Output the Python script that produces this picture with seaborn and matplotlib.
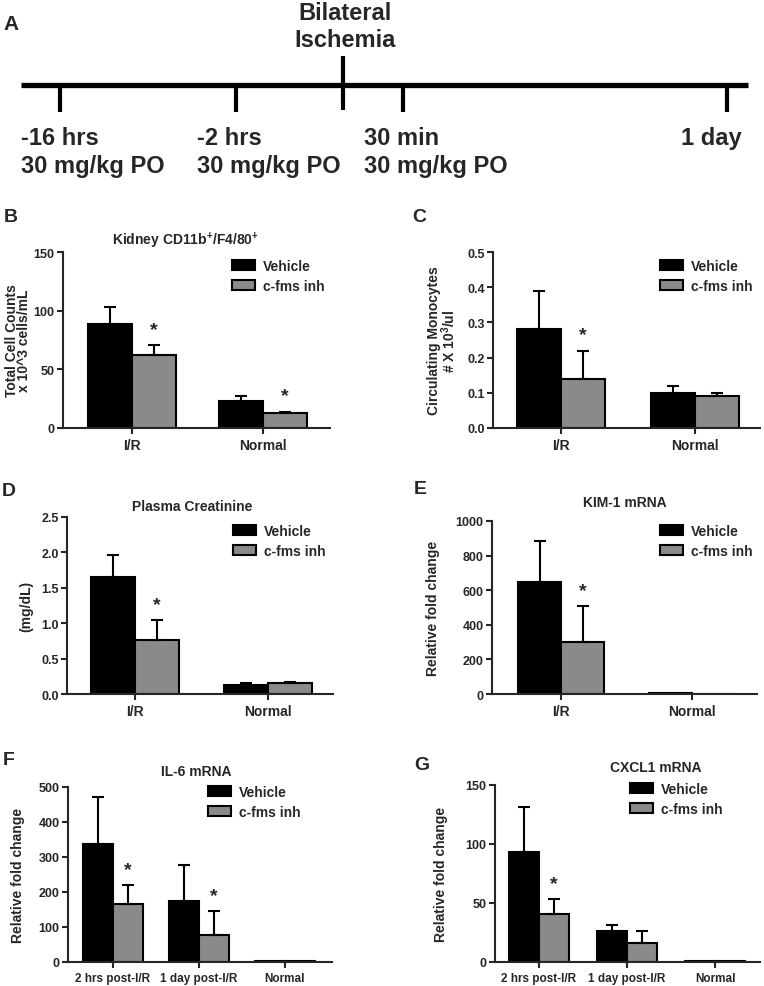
import numpy as np
import pandas as pd
import seaborn as sns
import matplotlib.pyplot as plt

# ======================
# DATA
# ======================
TREATMENTS = ["Vehicle", "c-fms inh"]

# timeline (panel A), schematic positions along the drawn line (px)
tl_pos = [60, 236, 403, 727]
tl_time = ["-16 hrs", "-2 hrs", "30 min", "1 day"]
tl_dose = ["30 mg/kg PO", "30 mg/kg PO", "30 mg/kg PO", ""]
ischemia_pos = 343

groups_2 = ["I/R", "Normal"]
groups_3 = ["2 hrs post-I/R", "1 day post-I/R", "Normal"]

# B  kidney macrophages
b_veh, b_veh_hi = [89, 23], [103, 27]
b_inh, b_inh_hi = [62, 13], [71, 14]
b_star = [True, True]

# C  circulating monocytes
c_veh, c_veh_hi = [0.28, 0.10], [0.39, 0.12]
c_inh, c_inh_hi = [0.14, 0.09], [0.22, 0.10]
c_star = [True, False]

# D  plasma creatinine
d_veh, d_veh_hi = [1.65, 0.13], [1.96, 0.16]
d_inh, d_inh_hi = [0.76, 0.15], [1.04, 0.17]
d_star = [True, False]

# E  KIM-1
e_veh, e_veh_hi = [645, 3], [887, 3]
e_inh, e_inh_hi = [300, 2], [507, 2]
e_star = [True, False]

# F  IL-6
f_veh, f_veh_hi = [336, 175, 2], [472, 277, 2]
f_inh, f_inh_hi = [165, 78, 2], [219, 146, 2]
f_star = [True, True, False]

# G  CXCL1
g_veh, g_veh_hi = [93, 26, 1], [131, 31, 1]
g_inh, g_inh_hi = [41, 16, 1], [53, 26, 1]
g_star = [True, False, False]

# ======================
# STYLE
# ======================
sns.set_style("ticks")
plt.rcParams["font.family"] = ["Liberation Sans", "DejaVu Sans"]
plt.rcParams["font.weight"] = "bold"
plt.rcParams["mathtext.default"] = "regular"
plt.rcParams["axes.linewidth"] = 1.5
plt.rcParams["xtick.major.width"] = 1.5
plt.rcParams["ytick.major.width"] = 1.5
plt.rcParams["xtick.major.size"] = 4
plt.rcParams["ytick.major.size"] = 4
plt.rcParams["xtick.major.pad"] = 3
plt.rcParams["ytick.major.pad"] = 2

W, H = 764, 987
fig = plt.figure(figsize=(W / 100, H / 100), dpi=100)
GRAY = "#8a8a8a"


def px_axes(x0, x1, top, bottom):
    return fig.add_axes([x0 / W, 1 - bottom / H, (x1 - x0) / W, (bottom - top) / H])


def ftext(x, y, s, **kw):
    fig.text(x / W, 1 - y / H, s, **kw)


# ======================
# PANEL A - TIMELINE
# ======================
ax_a = fig.add_axes([0, 1 - 190 / H, 1, 190 / H])
ax_a.set_xlim(0, W)
ax_a.set_ylim(190, 0)
ax_a.axis("off")
ax_a.hlines(86, 21, 748, color="black", lw=3.8, capstyle="butt")
ax_a.vlines(tl_pos, 86, 113, color="black", lw=3)
ax_a.vlines(ischemia_pos, 57, 111, color="black", lw=3)
tl_font = dict(fontsize=17, fontweight="bold", va="baseline")
for p, t, d in zip(tl_pos, tl_time, tl_dose):
    if d:
        ax_a.text(p - 39, 145, t, ha="left", **tl_font)
        ax_a.text(p - 39, 173, d, ha="left", **tl_font)
    else:
        ax_a.text(p + 15, 145, t, ha="right", **tl_font)
ax_a.text(ischemia_pos + 2, 20, "Bilateral", ha="center", **tl_font)
ax_a.text(ischemia_pos + 2, 47, "Ischemia", ha="center", **tl_font)
ftext(3, 24, "A", fontsize=15, fontweight="bold", va="center")


# ======================
# BAR PANELS
# ======================
def bar_panel(rect, groups, veh, veh_hi, inh, inh_hi, stars, ymax, ystep,
              xlim, width, ylabel, label_x, legend_xy, xfont=10, yfmt="{:g}",
              lab_spacing=0.95):
    ax = px_axes(*rect)
    df = pd.DataFrame({
        "group": groups * 2,
        "treatment": [TREATMENTS[0]] * len(groups) + [TREATMENTS[1]] * len(groups),
        "mean": veh + inh,
    })
    sns.barplot(data=df, x="group", y="mean", hue="treatment", hue_order=TREATMENTS,
                palette=["black", GRAY], edgecolor="black", linewidth=1.5,
                width=width, errorbar=None, ax=ax)

    for cont, means, hi, is_inh in zip(ax.containers, [veh, inh], [veh_hi, inh_hi], [False, True]):
        xs = np.array([b.get_x() + b.get_width() / 2 for b in cont])
        m = np.array(means, dtype=float)
        u = np.array(hi, dtype=float)
        mask = u > m
        if mask.any():
            ax.errorbar(xs[mask], m[mask], yerr=[np.zeros(mask.sum()), (u - m)[mask]],
                        fmt="none", ecolor="black", elinewidth=1.5, capsize=4.5,
                        capthick=1.5, zorder=3)
        if is_inh:
            for x, top, s in zip(xs, u, stars):
                if s:
                    ax.annotate("*", (x, top), xytext=(0, 8), textcoords="offset points",
                                ha="center", va="baseline", fontsize=14, fontweight="bold")

    ax.set_ylim(0, ymax)
    ticks = np.arange(0, ymax + ystep / 2, ystep)
    ax.set_yticks(ticks)
    ax.set_yticklabels([yfmt.format(t) for t in ticks], fontsize=9, fontweight="bold")
    ax.set_xlim(*xlim)
    ax.tick_params(axis="x", labelsize=xfont)
    for lab in ax.get_xticklabels():
        lab.set_fontweight("bold")
    ax.set_xlabel("")
    ax.set_ylabel(ylabel, fontsize=10, fontweight="bold", linespacing=lab_spacing)
    ax.yaxis.set_label_coords(label_x, 0.5)
    sns.despine(ax=ax)

    handles, labels = ax.get_legend_handles_labels()
    ax.legend(handles, labels, loc="center left",
              bbox_to_anchor=(legend_xy[0] / W, 1 - legend_xy[1] / H),
              bbox_transform=fig.transFigure, frameon=False, borderpad=0,
              borderaxespad=0, handlelength=1.65, handleheight=0.72,
              handletextpad=0.58, labelspacing=0.45,
              prop={"size": 10, "weight": "bold"})
    return ax


# B
bar_panel((63, 330, 253, 429), groups_2, b_veh, b_veh_hi, b_inh, b_inh_hi, b_star,
          150, 50, (-0.527, 1.51), 0.67, "Total Cell Counts\nx 10^3 cells/mL",
          -0.118, (232, 277), lab_spacing=0.85)
ftext(185, 241, "Kidney CD11b$^{+}$/F4/80$^{+}$", fontsize=10, fontweight="bold",
      ha="center", va="center")
ftext(4, 217, "B", fontsize=14, fontweight="bold", va="center")

# C
bar_panel((493, 760, 253, 429), groups_2, c_veh, c_veh_hi, c_inh, c_inh_hi, c_star,
          0.5, 0.1, (-0.507, 1.485), 0.66, "Circulating Monocytes\n# X 10$^{3}$/ul",
          -0.132, (660, 277), yfmt="{:.1f}", lab_spacing=0.85)
ftext(412, 217, "C", fontsize=14, fontweight="bold", va="center")

# D
bar_panel((67, 333, 518, 695), groups_2, d_veh, d_veh_hi, d_inh, d_inh_hi, d_star,
          2.5, 0.5, (-0.511, 1.49), 0.66, "(mg/dL)", -0.128, (233, 542),
          yfmt="{:.1f}")
ftext(192, 507, "Plasma Creatinine", fontsize=10, fontweight="bold",
      ha="center", va="center")
ftext(2, 492, "D", fontsize=14, fontweight="bold", va="center")

# E
bar_panel((492, 757, 522, 695), groups_2, e_veh, e_veh_hi, e_inh, e_inh_hi, e_star,
          1000, 200, (-0.527, 1.496), 0.656, "Relative fold change", -0.196, (660, 542))
ftext(625, 503, "KIM-1 mRNA", fontsize=10, fontweight="bold", ha="center", va="center")
ftext(414, 490, "E", fontsize=14, fontweight="bold", va="center")

# F
bar_panel((68, 332, 788, 963), groups_3, f_veh, f_veh_hi, f_inh, f_inh_hi, f_star,
          500, 100, (-0.523, 2.547), 0.70, "Relative fold change", -0.163, (208, 803),
          xfont=8.5)
ftext(196, 772, "IL-6 mRNA", fontsize=10, fontweight="bold", ha="center", va="center")
ftext(3, 761, "F", fontsize=14, fontweight="bold", va="center")

# G
bar_panel((495, 760, 786, 963), groups_3, g_veh, g_veh_hi, g_inh, g_inh_hi, g_star,
          150, 50, (-0.5, 2.51), 0.68, "Relative fold change", -0.177, (630, 800),
          xfont=8.5)
ftext(656, 768, "CXCL1 mRNA", fontsize=10, fontweight="bold", ha="center", va="center")
ftext(414, 765, "G", fontsize=14, fontweight="bold", va="center")

fig.savefig("out.png", dpi=100)
